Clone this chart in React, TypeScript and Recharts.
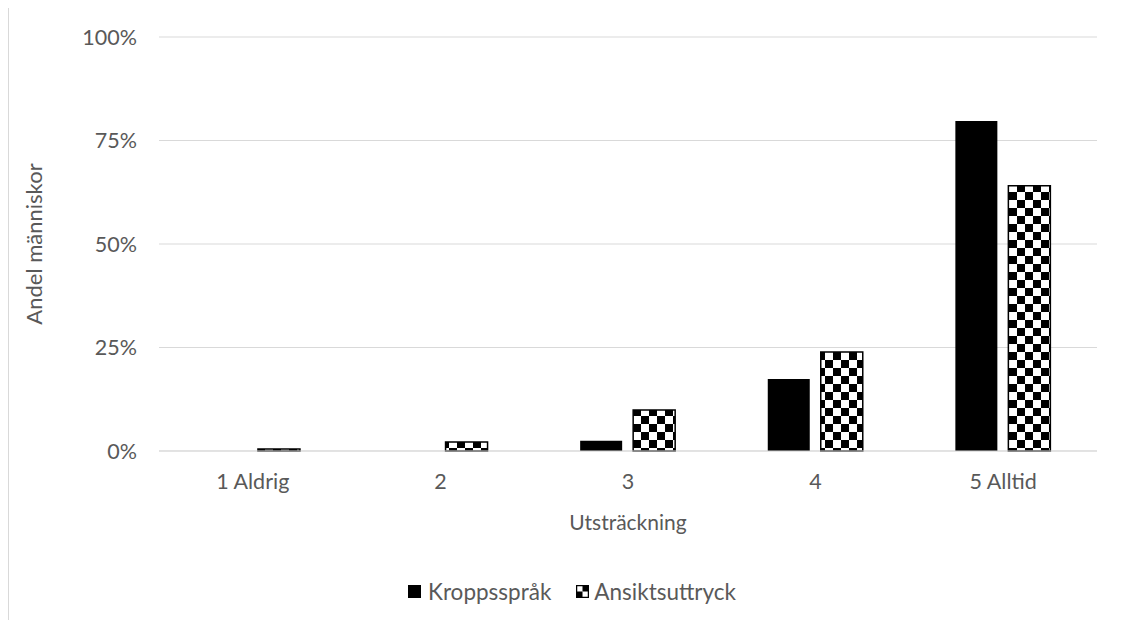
import { BarChart, Bar, XAxis, YAxis, CartesianGrid, Legend, Label } from 'recharts';

const categories = ['1 Aldrig', '2', '3', '4', '5 Alltid'];
const kroppssprak = [0, 0, 2.5, 17.4, 79.7];
const ansiktsuttryck = [0.5, 2.2, 9.9, 23.9, 64.1];
const yTicks = [0, 25, 50, 75, 100];

const data = categories.map((name, i) => ({
  name,
  kropp: kroppssprak[i],
  ansikt: ansiktsuttryck[i],
}));

const TEXT = '#595959';
const FONT = 'Lato, "Open Sans", sans-serif';

function LegendContent() {
  return (
    <div
      style={{
        height: 30,
        display: 'flex',
        justifyContent: 'center',
        alignItems: 'center',
        paddingLeft: 38,
        fontFamily: FONT,
        fontSize: 22.5,
        color: TEXT,
      }}
    >
      <svg width={13} height={13} style={{ marginRight: 7 }}>
        <rect x={0} y={0} width={13} height={13} fill="#000" />
      </svg>
      <span style={{ marginRight: 25 }}>Kroppsspråk</span>
      <svg width={13} height={13} style={{ marginRight: 5 }}>
        <rect x={0.5} y={0.5} width={12} height={12} fill="#fff" stroke="#000" strokeWidth={1.5} />
        <rect x={6.5} y={0.5} width={6} height={6} fill="#000" />
        <rect x={0.5} y={6.5} width={6} height={6} fill="#000" />
      </svg>
      <span>Ansiktsuttryck</span>
    </div>
  );
}

export default function App() {
  return (
    <div
      style={{
        width: 1114,
        height: 612,
        marginTop: -1,
        borderTop: '1px solid #d9d9d9',
        borderLeft: '1px solid #d9d9d9',
        background: '#fff',
      }}
    >
      <BarChart
        width={1113}
        height={612}
        data={data}
        margin={{ top: 29, right: 25, left: 0, bottom: 14 }}
        barCategoryGap="24.5%"
        barGap={11}
        style={{ fontFamily: FONT }}
      >
        <defs>
          <pattern id="checker" width={16} height={16} patternUnits="userSpaceOnUse">
            <rect x={0} y={0} width={16} height={16} fill="#fff" />
            <rect x={0} y={0} width={8} height={8} fill="#000" />
            <rect x={8} y={8} width={8} height={8} fill="#000" />
          </pattern>
        </defs>
        <CartesianGrid vertical={false} stroke="#d9d9d9" />
        <XAxis
          dataKey="name"
          height={125}
          axisLine={{ stroke: '#d9d9d9' }}
          tickLine={false}
          tickMargin={17}
          tick={{ fill: TEXT, fontSize: 21.5 }}
        >
          <Label
            content={({ viewBox }: any) => (
              <text
                x={viewBox.x + viewBox.width / 2}
                y={viewBox.y + 70}
                textAnchor="middle"
                dominantBaseline="central"
                fill={TEXT}
                fontSize={21}
              >
                Utsträckning
              </text>
            )}
          />
        </XAxis>
        <YAxis
          width={150}
          domain={[0, 100]}
          ticks={yTicks}
          tickFormatter={(v: number) => `${v}%`}
          axisLine={false}
          tickLine={false}
          tickMargin={16}
          tick={{ fill: TEXT, fontSize: 21.5 }}
        >
          <Label
            content={({ viewBox }: any) => {
              const x = 24;
              const y = viewBox.y + viewBox.height / 2;
              return (
                <text
                  x={x}
                  y={y}
                  transform={`rotate(-90, ${x}, ${y})`}
                  textAnchor="middle"
                  dominantBaseline="central"
                  fill={TEXT}
                  fontSize={22}
                >
                  Andel människor
                </text>
              );
            }}
          />
        </YAxis>
        <Legend verticalAlign="bottom" height={30} content={<LegendContent />} />
        <Bar dataKey="kropp" name="Kroppsspråk" fill="#000" isAnimationActive={false} />
        <Bar
          dataKey="ansikt"
          name="Ansiktsuttryck"
          fill="url(#checker)"
          stroke="#000"
          strokeWidth={1.5}
          isAnimationActive={false}
        />
      </BarChart>
    </div>
  );
}
